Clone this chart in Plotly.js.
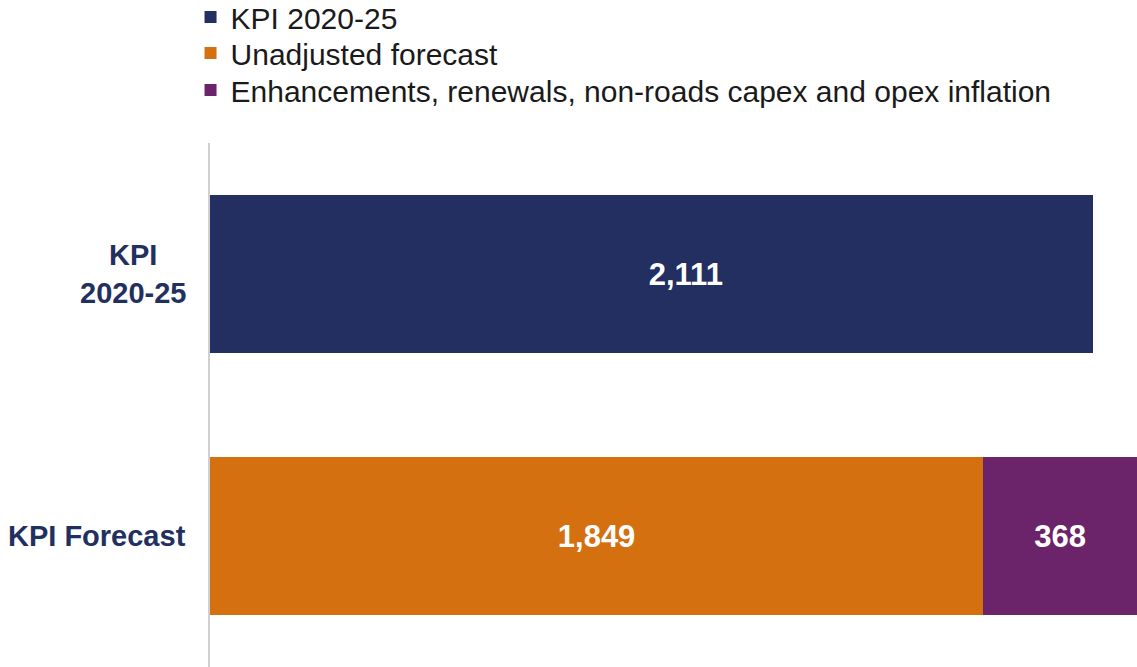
<!DOCTYPE html>
<html>
<head>
<meta charset="utf-8">
<script src="https://cdn.plot.ly/plotly-3.0.1.min.js"></script>
<style>html,body{margin:0;padding:0;background:#fff;}#chart{width:1137px;height:667px;}</style>
</head>
<body>
<div id="chart"></div>
<script>
const categories = ["KPI 2020-25", "KPI Forecast"];
const categoryLabels = ["KPI<br>2020-25", "KPI Forecast"];
const kpi2020 = [2111, null];
const unadjusted = [null, 1849];
const enhancements = [null, 368];
const seriesNames = ["KPI 2020-25", "Unadjusted forecast", "Enhancements, renewals, non-roads capex and opex inflation"];
const colors = ["#222f60", "#d4700f", "#6b2469"];

const FONT = 'Liberation Sans, Arial, sans-serif';
const vals = [kpi2020, unadjusted, enhancements];
const legendIds = ['legend', 'legend2', 'legend3'];
const textTemplates = ['\u00a0\u00a0\u00a0\u00a0\u00a0\u00a0\u00a0\u00a0%{x:,}', '%{x:,}', '%{x:,}'];
const traces = vals.map((v, i) => ({
  type: 'bar', orientation: 'h', y: categories, x: v, name: seriesNames[i],
  legend: legendIds[i],
  marker: {color: colors[i], line: {width: 0}},
  texttemplate: textTemplates[i], textposition: 'inside', insidetextanchor: 'middle',
  textfont: {family: FONT, size: 31, color: '#ffffff', weight: 'bold'},
  hoverinfo: 'skip'
}));

const annotations = categories.map((c, i) => ({
  xref: 'paper', yref: 'y', x: 0, y: c, xanchor: 'right', yanchor: 'middle',
  xshift: -22, text: '<b>' + categoryLabels[i] + '</b>', showarrow: false, align: 'center',
  font: {family: FONT, size: 29, color: '#223060'}
}));

const legendCenters = [17, 53, 90];
function mkLegend(i) {
  return {x: -0.021, xanchor: 'left', yref: 'container', y: 1 - legendCenters[i] / 667, yanchor: 'middle',
          orientation: 'v',
          font: {family: FONT, size: 30, color: '#1a1a1a'},
          itemwidth: 30, tracegroupgap: 0, bgcolor: 'rgba(0,0,0,0)'};
}

const layout = {
  width: 1137, height: 667,
  margin: {l: 210, r: 0, t: 143, b: 0, autoexpand: false},
  barmode: 'stack', bargap: 0.4,
  paper_bgcolor: '#ffffff', plot_bgcolor: '#ffffff',
  font: {family: FONT, size: 29, color: '#1a1a1a'},
  xaxis: {range: [0, 2217], visible: false, fixedrange: true},
  yaxis: {categoryorder: 'array', categoryarray: categories, autorange: 'reversed',
          showticklabels: false, showline: true, linecolor: '#d0d0d0', linewidth: 2,
          showgrid: false, zeroline: false, ticks: ''},
  showlegend: true,
  legend: mkLegend(0), legend2: mkLegend(1), legend3: mkLegend(2),
  annotations: annotations
};
Plotly.newPlot('chart', traces, layout, {displayModeBar: false, staticPlot: true});
</script>
</body>
</html>
